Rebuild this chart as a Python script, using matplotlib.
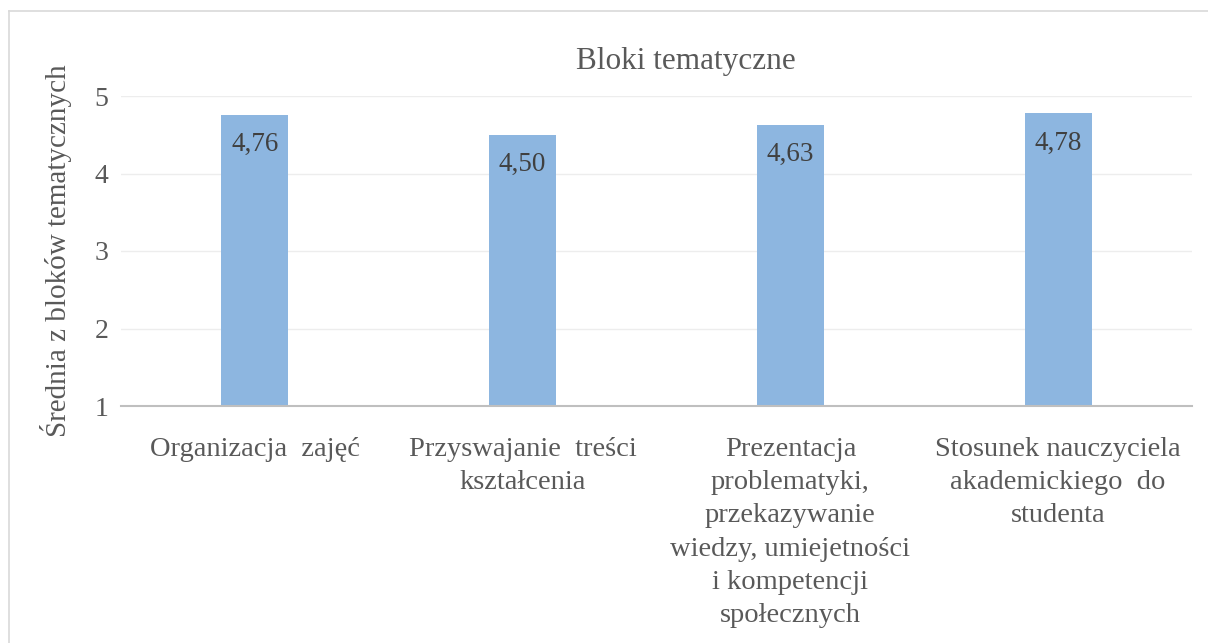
import matplotlib
matplotlib.use("Agg")
import matplotlib.pyplot as plt
from matplotlib.lines import Line2D

categories = [
    "Organizacja  zajęć",
    "Przyswajanie  treści\nkształcenia",
    "Prezentacja\nproblematyki,\nprzekazywanie\nwiedzy, umiejetności\ni kompetencji\nspołecznych",
    "Stosunek nauczyciela\nakademickiego  do\nstudenta",
]
values = [4.76, 4.50, 4.63, 4.78]
value_labels = ["4,76", "4,50", "4,63", "4,78"]
yticks = [1, 2, 3, 4, 5]

plt.rcParams["font.family"] = ["Liberation Serif", "DejaVu Serif"]
text_color = "#595959"
bar_color = "#8DB6E0"

W, H = 1208, 643
fig = plt.figure(figsize=(W / 100, H / 100), dpi=100)
ax = fig.add_axes([121 / W, 1 - 406 / H, (1192 - 121) / W, (406 - 96) / H])

x = list(range(len(categories)))
ax.bar(x, [v - 1 for v in values], bottom=1, width=0.25, color=bar_color, zorder=3)
for xi, v, lab in zip(x, values, value_labels):
    ax.annotate(lab, (xi, v), xytext=(0, -30), textcoords="offset pixels",
                ha="center", va="center", fontsize=19.5, color="#404040", zorder=4)

ax.set_xlim(-0.5, len(categories) - 0.5)
ax.set_ylim(1, 5)
ax.set_yticks(yticks)
ax.set_yticklabels([str(t) for t in yticks], fontsize=20, color=text_color)
ax.set_xticks(x)
ax.set_xticklabels(categories, fontsize=20.5, color=text_color, linespacing=1.44, va="top")
ax.tick_params(axis="both", length=0)
ax.tick_params(axis="y", pad=9)
ax.tick_params(axis="x", pad=22)
ax.grid(axis="y", color="#EDEDED", linewidth=1, zorder=0)
for s in ["top", "right", "left"]:
    ax.spines[s].set_visible(False)
ax.spines["bottom"].set_color("#BFBFBF")
ax.spines["bottom"].set_linewidth(1.5)
ax.spines["bottom"].set_zorder(5)

ax.set_ylabel("Średnia z bloków tematycznych", fontsize=21, color=text_color, labelpad=16)

fig.text(686 / W, 1 - 62 / H, "Bloki tematyczne",
         ha="center", va="center", fontsize=22.5, color=text_color)

# outer frame (top and left only visible)
fig.add_artist(Line2D([9 / W, 1], [1 - 11 / H, 1 - 11 / H], transform=fig.transFigure, color="#D9D9D9", linewidth=1.2))
fig.add_artist(Line2D([9 / W, 9 / W], [0, 1 - 11 / H], transform=fig.transFigure, color="#D9D9D9", linewidth=1.2))

fig.savefig("out.png", dpi=100, facecolor="white")
